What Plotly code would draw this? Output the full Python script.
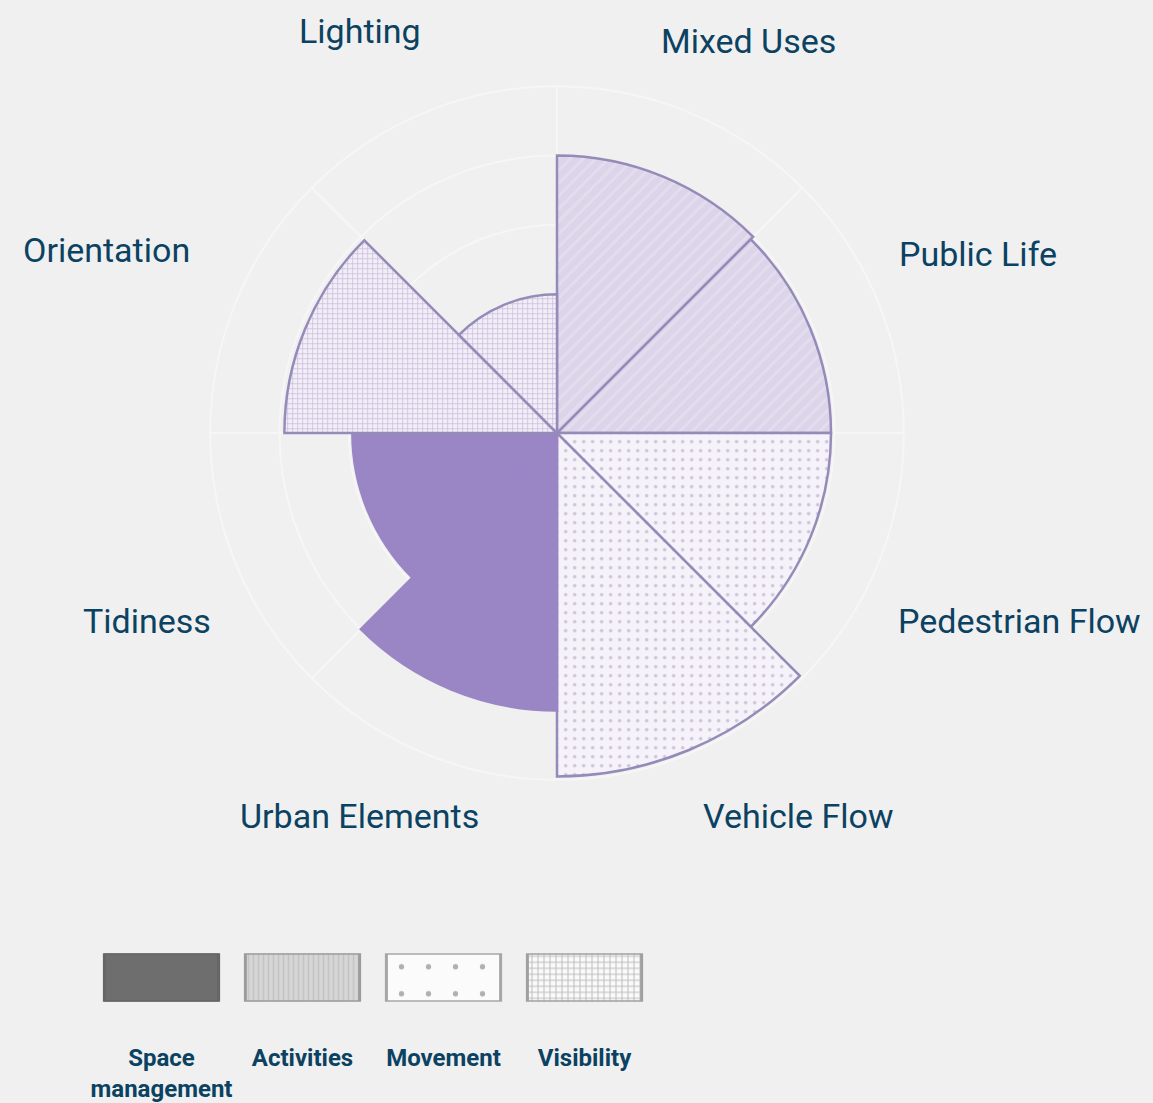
import plotly.graph_objects as go

W, H = 1153, 1103
BG = "#f0f0f0"


def px(x):
    return x / W


def py(y):
    return 1 - y / H


categories = ["Mixed Uses", "Public Life", "Pedestrian Flow", "Vehicle Flow",
              "Urban Elements", "Tidiness", "Orientation", "Lighting"]
groups = ["Activities", "Activities", "Movement", "Movement",
          "Space management", "Space management", "Visibility", "Visibility"]
scores = [4.0, 3.95, 3.95, 4.95, 4.0, 2.95, 3.93, 2.0]

legend_names = ["Space management", "Activities", "Movement", "Visibility"]
legend_labels = ["Space<br>management", "Activities", "Movement", "Visibility"]
legend_swatch = [1, 1, 1, 1]

TEXT = "#0b4262"
OUTLINE = "#958bb9"
SOLID = "#9a85c5"

# look of each group in the rose
rose_style = {
    "Space management": dict(color=SOLID, line=SOLID, pattern=dict(shape="")),
    "Activities": dict(color="#ddd6eb", line=OUTLINE,
                       pattern=dict(shape="/", fgcolor="#e3deef", bgcolor="#dcd5ea",
                                    size=9, solidity=0.3, fillmode="replace")),
    "Movement": dict(color="#f4f1f8", line=OUTLINE,
                     pattern=dict(shape=".", fgcolor="#cdc6da", bgcolor="#f5f2f9",
                                  size=9, solidity=0.12, fillmode="replace")),
    "Visibility": dict(color="#eee9f5", line=OUTLINE,
                       pattern=dict(shape="+", fgcolor="#cbc0dd", bgcolor="#f2eef7",
                                    size=5, solidity=0.3, fillmode="replace")),
}
# look of each legend swatch
swatch_style = {
    "Space management": dict(color="#6e6e6e", line="#666666", pattern=dict(shape="")),
    "Activities": dict(color="#d6d6d6", line="#9c9c9c",
                       pattern=dict(shape="|", fgcolor="#c4c4c4", bgcolor="#d6d6d6", size=5,
                                    solidity=0.3, fillmode="replace")),
    "Movement": dict(color="#fbfbfb", line="#a6a6a6",
                     pattern=dict(shape=".", fgcolor="#b0b0b0", bgcolor="#fbfbfb", size=27,
                                  solidity=0.03, fillmode="replace")),
    "Visibility": dict(color="#f8f8f8", line="#a0a0a0",
                       pattern=dict(shape="+", fgcolor="#bcbcbc", bgcolor="#fafafa", size=6,
                                    solidity=0.3, fillmode="replace")),
}

fig = go.Figure()

sector = 360 / len(categories)
for g in ["Activities", "Movement", "Space management", "Visibility"]:
    idx = [i for i, gg in enumerate(groups) if gg == g]
    st = rose_style[g]
    fig.add_trace(go.Barpolar(
        r=[scores[i] for i in idx],
        theta=[sector * (i + 0.5) for i in idx],
        width=[sector] * len(idx),
        name=g,
        marker=dict(color=st["color"], pattern=st["pattern"],
                    line=dict(color=st["line"], width=2.5)),
        showlegend=False,
        hoverinfo="skip",
    ))

# legend swatches as a tiny bar chart
for name, lab, v in zip(legend_names, legend_labels, legend_swatch):
    st = swatch_style[name]
    fig.add_trace(go.Bar(
        x=[lab], y=[v], width=0.81,
        marker=dict(color=st["color"], pattern=st["pattern"],
                    line=dict(color=st["line"], width=3)),
        xaxis="x", yaxis="y", showlegend=False, hoverinfo="skip",
    ))

grid = dict(gridcolor="#f6f6f6", gridwidth=2)
fig.update_layout(
    width=W, height=H,
    margin=dict(l=0, r=0, t=0, b=0),
    paper_bgcolor=BG,
    plot_bgcolor="rgba(0,0,0,0)",
    font=dict(family="Roboto", color=TEXT),
    barmode="overlay",
    polar=dict(
        domain=dict(x=[px(207), px(907)], y=[py(787), py(87)]),
        bgcolor="rgba(0,0,0,0)",
        radialaxis=dict(range=[0, 5], tickvals=[1, 2, 3, 4, 5], showticklabels=False,
                        showline=False, ticks="", **grid),
        angularaxis=dict(rotation=90, direction="clockwise", dtick=45, showticklabels=False,
                         ticks="", showline=True, linecolor="#f6f6f6", linewidth=2, **grid),
    ),
    xaxis=dict(domain=[px(91), px(655)], range=[-0.5, 3.5], showgrid=False, zeroline=False,
               showline=False, ticks="outside", ticklen=34, tickcolor="rgba(0,0,0,0)",
               tickfont=dict(family="Roboto", size=24, color=TEXT, weight="bold")),
    yaxis=dict(domain=[py(1011), py(962)], range=[0, 1], visible=False),
)

# category labels around the rose
label_pos = {
    "Lighting": (360, 31, "center"),
    "Mixed Uses": (748, 41, "center"),
    "Public Life": (897, 256, "left"),
    "Pedestrian Flow": (896, 627, "left"),
    "Vehicle Flow": (798, 823, "center"),
    "Urban Elements": (359, 823, "center"),
    "Tidiness": (213, 627, "right"),
    "Orientation": (192, 252, "right"),
}
for c in categories:
    x, y, anc = label_pos[c]
    fig.add_annotation(text=c, x=px(x), y=py(y), xref="paper", yref="paper",
                       xanchor=anc, yanchor="middle", showarrow=False,
                       font=dict(family="Roboto", size=34, color=TEXT))

# no body margin so the figure fills the window exactly
page_js = (
    "document.documentElement.style.overflow='hidden';"
    "document.body.style.margin='0';"
    "document.body.style.overflow='hidden';"
    f"document.body.style.background='{BG}';"
)
fig.write_html("out.html", post_script=page_js, config={"displayModeBar": False})
